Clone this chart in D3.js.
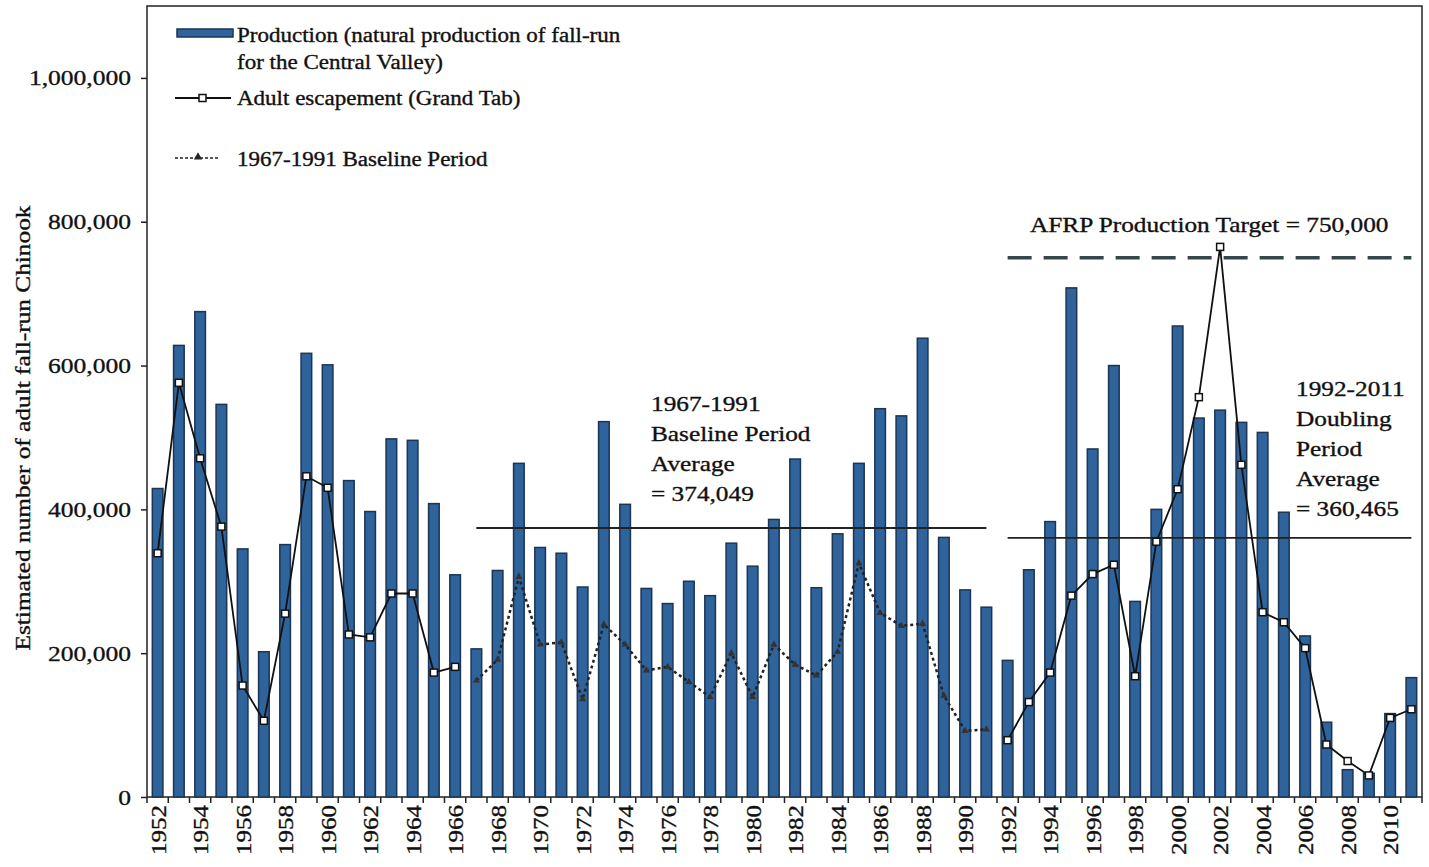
<!DOCTYPE html>
<html lang="en">
<head>
    <meta charset="UTF-8">
    <title>Central Valley fall-run Chinook</title>
    <script src="https://cdn.jsdelivr.net/npm/d3@7"></script>
    <style>
        body { margin: 0; background: #fff; }
        text { font-family: "Liberation Serif", "Times New Roman", serif; fill: #111; stroke: #111; stroke-width: 0.35px; }
    </style>
</head>
<body>
<svg width="1429" height="867" id="chart"></svg>
<script>
    // years on the x axis
    const years = d3.range(1952, 2012);

    // natural production (bars)
    const production = [
        429000, 628000, 675000, 546000, 345000, 202000, 351000, 617000, 601000, 440000,
        397000, 498000, 496000, 408000, 309000, 206000, 315000, 464000, 347000, 339000,
        292000, 522000, 407000, 290000, 269000, 300000, 280000, 353000, 321000, 386000,
        470000, 291000, 366000, 464000, 540000, 530000, 638000, 361000, 288000, 264000,
        190000, 316000, 383000, 708000, 484000, 600000, 272000, 400000, 655000, 527000,
        538000, 521000, 507000, 396000, 224000, 104000, 38000, 33000, 116000, 166000
    ];

    // adult escapement, Grand Tab (solid line with squares), null inside the baseline period
    const escapement = [
        339000, 576000, 471000, 376000, 155000, 106000, 255000, 446000, 430000, 226000,
        222000, 283000, 283000, 173000, 181000, null, null, null, null, null,
        null, null, null, null, null, null, null, null, null, null,
        null, null, null, null, null, null, null, null, null, null,
        79000, 132000, 173000, 280000, 310000, 323000, 168000, 355000, 428000, 556000,
        765000, 462000, 257000, 243000, 207000, 73000, 50000, 30000, 110000, 122000
    ];

    // 1967-1991 baseline period (dotted line with triangles)
    const baselineYears = d3.range(1967, 1992);
    const baseline = [
        162000, 191000, 306000, 212000, 215000, 136000, 240000, 212000, 176000, 181000,
        160000, 139000, 200000, 139000, 212000, 184000, 169000, 202000, 325000, 256000,
        238000, 241000, 141000, 92000, 94000
    ];

    const yTicks = [0, 200000, 400000, 600000, 800000, 1000000];
    const baselineAvg = 374049;
    const doublingAvg = 360465;
    const target = 750000;

    const svg = d3.select("#chart");
    const pLeft = 147, pRight = 1422, pTop = 6, pBottom = 797;

    // the scanned type is wider than Liberation Serif: widen each text a bit
    function widen(sel, k) {
        sel.each(function () {
            const w = this.getComputedTextLength();
            d3.select(this).attr("textLength", w * k).attr("lengthAdjust", "spacingAndGlyphs");
        });
    }

    const x = d3.scaleBand().domain(years).range([pLeft, pRight])
        .paddingInner(0.5).paddingOuter(0.25);
    const y = d3.scaleLinear().domain([0, 1100000]).range([pBottom, pTop]);
    const cx = d => x(d) + x.bandwidth() / 2;

    // frame
    svg.append("rect")
        .attr("x", pLeft).attr("y", pTop)
        .attr("width", pRight - pLeft).attr("height", pBottom - pTop)
        .attr("fill", "none").attr("stroke", "#222").attr("stroke-width", 1.5);

    // bars
    svg.append("g").selectAll("rect").data(years).join("rect")
        .attr("x", d => x(d))
        .attr("y", (d, i) => y(production[i]))
        .attr("width", x.bandwidth())
        .attr("height", (d, i) => pBottom - y(production[i]))
        .attr("fill", "#2f639b")
        .attr("stroke", "#1c3554")
        .attr("stroke-width", 1.5);

    // average and target lines
    svg.append("line")
        .attr("x1", cx(1967)).attr("x2", cx(1991))
        .attr("y1", y(baselineAvg)).attr("y2", y(baselineAvg))
        .attr("stroke", "#222").attr("stroke-width", 1.8);
    svg.append("line")
        .attr("x1", cx(1992)).attr("x2", cx(2011))
        .attr("y1", y(doublingAvg)).attr("y2", y(doublingAvg))
        .attr("stroke", "#222").attr("stroke-width", 1.8);
    svg.append("line")
        .attr("x1", cx(1992)).attr("x2", cx(2011))
        .attr("y1", y(target)).attr("y2", y(target))
        .attr("stroke", "#34474a").attr("stroke-width", 3.5)
        .attr("stroke-dasharray", "24,12");

    // escapement line (two pieces)
    const esc = years.map((d, i) => [d, escapement[i]]);
    const line = d3.line().defined(d => d[1] != null).x(d => cx(d[0])).y(d => y(d[1]));
    svg.append("path").datum(esc)
        .attr("d", line).attr("fill", "none")
        .attr("stroke", "#111").attr("stroke-width", 1.8);

    // baseline dotted line
    const base = baselineYears.map((d, i) => [d, baseline[i]]);
    svg.append("path").datum(base)
        .attr("d", line).attr("fill", "none")
        .attr("stroke", "#222").attr("stroke-width", 2.5)
        .attr("stroke-dasharray", "3,3");
    svg.append("g").selectAll("path").data(base).join("path")
        .attr("transform", d => `translate(${cx(d[0])},${y(d[1])})`)
        .attr("d", d3.symbol(d3.symbolTriangle, 22))
        .attr("fill", "#333");

    svg.append("g").selectAll("rect").data(esc.filter(d => d[1] != null)).join("rect")
        .attr("x", d => cx(d[0]) - 3.5).attr("y", d => y(d[1]) - 3.5)
        .attr("width", 7).attr("height", 7)
        .attr("fill", "#fff").attr("stroke", "#111").attr("stroke-width", 1.5);

    // y axis
    const yAxis = svg.append("g").attr("transform", `translate(${pLeft},0)`)
        .call(d3.axisLeft(y).tickValues(yTicks).tickFormat(d3.format(",")).tickSize(6).tickPadding(10));
    yAxis.select(".domain").remove();
    yAxis.selectAll("line").attr("stroke", "#222").attr("stroke-width", 1.5);
    yAxis.selectAll("text")
        .style("font-family", "'Liberation Serif', serif")
        .style("font-size", "22px").attr("fill", "#111").attr("stroke", "#111").attr("stroke-width", 0.5)
        .call(widen, 1.16);

    // x axis: ticks between categories, labels on even years
    const step = x.step();
    const edges = d3.range(years.length + 1).map(i => x(years[0]) - (step - x.bandwidth()) / 2 + i * step);
    svg.append("g").selectAll("line").data(edges).join("line")
        .attr("x1", d => d).attr("x2", d => d)
        .attr("y1", pBottom).attr("y2", pBottom + 6)
        .attr("stroke", "#222").attr("stroke-width", 1.5);
    svg.append("g").selectAll("text").data(years.filter(d => d % 2 === 0)).join("text")
        .attr("transform", d => `translate(${cx(d) + 8},${pBottom + 8}) rotate(-90)`)
        .attr("text-anchor", "end")
        .style("font-size", "22px")
        .attr("textLength", 50).attr("lengthAdjust", "spacingAndGlyphs")
        .text(d => d);

    // y axis title
    svg.append("text")
        .attr("transform", "translate(30,428) rotate(-90)")
        .attr("text-anchor", "middle")
        .style("font-size", "21px")
        .attr("textLength", 445).attr("lengthAdjust", "spacingAndGlyphs")
        .text("Estimated number of adult fall-run Chinook");

    // legend
    const lg = svg.append("g");
    lg.append("rect").attr("x", 177).attr("y", 29).attr("width", 56).attr("height", 8)
        .attr("fill", "#2f639b").attr("stroke", "#1c3554").attr("stroke-width", 1.5);
    lg.append("text").attr("x", 237).attr("y", 42).style("font-size", "20px")
        .text("Production (natural production of fall-run");
    lg.append("text").attr("x", 237).attr("y", 69).style("font-size", "20px")
        .text("for the Central Valley)");
    lg.append("line").attr("x1", 175).attr("x2", 231).attr("y1", 98).attr("y2", 98)
        .attr("stroke", "#111").attr("stroke-width", 1.8);
    lg.append("rect").attr("x", 199).attr("y", 94.5).attr("width", 7).attr("height", 7)
        .attr("fill", "#fff").attr("stroke", "#111").attr("stroke-width", 1.5);
    lg.append("text").attr("x", 237).attr("y", 105).style("font-size", "20px")
        .text("Adult escapement (Grand Tab)");
    lg.append("line").attr("x1", 175).attr("x2", 220).attr("y1", 158).attr("y2", 158)
        .attr("stroke", "#222").attr("stroke-width", 1.5).attr("stroke-dasharray", "3,2");
    lg.append("path").attr("transform", "translate(198,157)")
        .attr("d", d3.symbol(d3.symbolTriangle, 30)).attr("fill", "#222");
    lg.append("text").attr("x", 237).attr("y", 166).style("font-size", "20px")
        .text("1967-1991 Baseline Period");
    lg.selectAll("text").call(widen, 1.15);

    // annotations
    const note = (lines, x0, y0, dy) => {
        lines.forEach((t, i) => svg.append("text")
            .attr("x", x0).attr("y", y0 + i * dy)
            .style("font-size", "22px").text(t)
            .call(widen, 1.15));
    };
    note(["1967-1991", "Baseline Period", "Average", "= 374,049"], 651, 411, 30);
    note(["1992-2011", "Doubling", "Period", "Average", "= 360,465"], 1296, 396, 30);
    note(["AFRP Production Target = 750,000"], 1030, 232, 0);
</script>
</body>
</html>
